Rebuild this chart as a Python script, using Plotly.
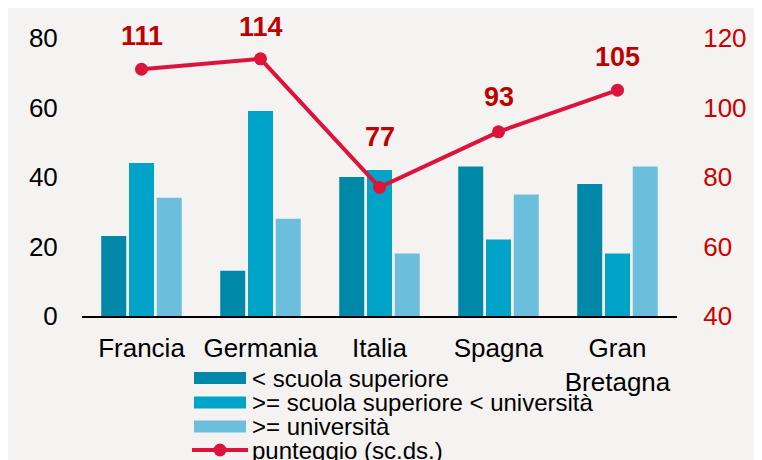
import plotly.graph_objects as go

categories = ["Francia", "Germania", "Italia", "Spagna", "Gran<br>Bretagna"]
series_names = ["< scuola superiore", ">= scuola superiore < università", ">= università"]
below_high_school = [23, 13, 40, 43, 38]
high_school_not_univ = [44, 59, 42, 22, 18]
university = [34, 28, 18, 35, 43]
line_name = "punteggio (sc.ds.)"
score = [111, 114, 77, 93, 105]
left_ticks = [0, 20, 40, 60, 80]
right_ticks = [40, 60, 80, 100, 120]

bar_colors = ["#0088a8", "#00a4c8", "#6bbfdc"]
line_color = "#dc143c"
label_color = "#c00000"
label_shift = [33, 32, 50, 35, 33]

OFF = 8  # page body margin
W, H = 762, 460
L, R, T, B = 74, 93, 30, 152
pw, ph = W - L - R, H - T - B

def px(x):
    return (x - OFF - L) / pw

def py(y):
    return (H - B - (y - OFF)) / ph

fig = go.Figure()
for name, vals, col in zip(series_names, [below_high_school, high_school_not_univ, university], bar_colors):
    fig.add_trace(go.Bar(x=categories, y=vals, name=name, marker=dict(color=col, line=dict(width=0)),
                         showlegend=False))
fig.add_trace(go.Scatter(x=categories, y=score, name=line_name, yaxis="y2", mode="lines+markers",
                         line=dict(color=line_color, width=4), marker=dict(size=13, color=line_color),
                         showlegend=False, cliponaxis=False))

annotations = []
for c, v, s in zip(categories, score, label_shift):
    annotations.append(dict(x=c, y=v, xref="x", yref="y2", text=f"<b>{v}</b>", showarrow=False,
                            yshift=s, font=dict(size=27, color=label_color, family="Liberation Sans")))

shapes = []
# manual legend
rows = [378, 402.5, 426.5, 450]
for name, col, yy in zip(series_names, bar_colors, rows[:3]):
    shapes.append(dict(type="rect", xref="paper", yref="paper", x0=px(194), x1=px(246), y0=py(yy + 6), y1=py(yy - 6),
                       fillcolor=col, line=dict(width=0)))
    annotations.append(dict(x=px(250), y=py(yy), xref="paper", yref="paper", text=name, showarrow=False,
                            xanchor="left", yanchor="middle", font=dict(size=24, color="black", family="Liberation Sans")))
shapes.append(dict(type="line", xref="paper", yref="paper", x0=px(192), x1=px(248), y0=py(rows[3]), y1=py(rows[3]),
                   line=dict(color=line_color, width=4)))
shapes.append(dict(type="circle", xref="paper", yref="paper", x0=px(213.5), x1=px(226.5), y0=py(rows[3] + 6.5),
                   y1=py(rows[3] - 6.5), fillcolor=line_color, line=dict(width=0)))
annotations.append(dict(x=px(250), y=py(rows[3]), xref="paper", yref="paper", text=line_name, showarrow=False,
                        xanchor="left", yanchor="middle", font=dict(size=24, color="black", family="Liberation Sans")))

fig.update_layout(
    width=W, height=H,
    margin=dict(l=L, r=R, t=T, b=B, pad=0),
    paper_bgcolor="#f4f3f1", plot_bgcolor="#f4f3f1",
    barmode="group", bargap=0.30, bargroupgap=0.1,
    font=dict(family="Liberation Sans", size=26, color="black"),
    xaxis=dict(showline=True, linecolor="black", linewidth=2, showgrid=False, ticks="outside", ticklen=8,
               tickcolor="rgba(0,0,0,0)", tickfont=dict(size=26), zeroline=False),
    yaxis=dict(range=[0, 80], tickvals=left_ticks, showgrid=False, zeroline=False, ticks="outside",
               ticklen=18, tickcolor="rgba(0,0,0,0)", tickfont=dict(size=26, color="black")),
    yaxis2=dict(range=[40, 120], tickvals=right_ticks, overlaying="y", side="right", showgrid=False,
                zeroline=False, ticks="outside", ticklen=20, tickcolor="rgba(0,0,0,0)",
                tickfont=dict(size=26, color="#cc0000")),
    shapes=shapes, annotations=annotations,
)

fig.write_html("out.html")
